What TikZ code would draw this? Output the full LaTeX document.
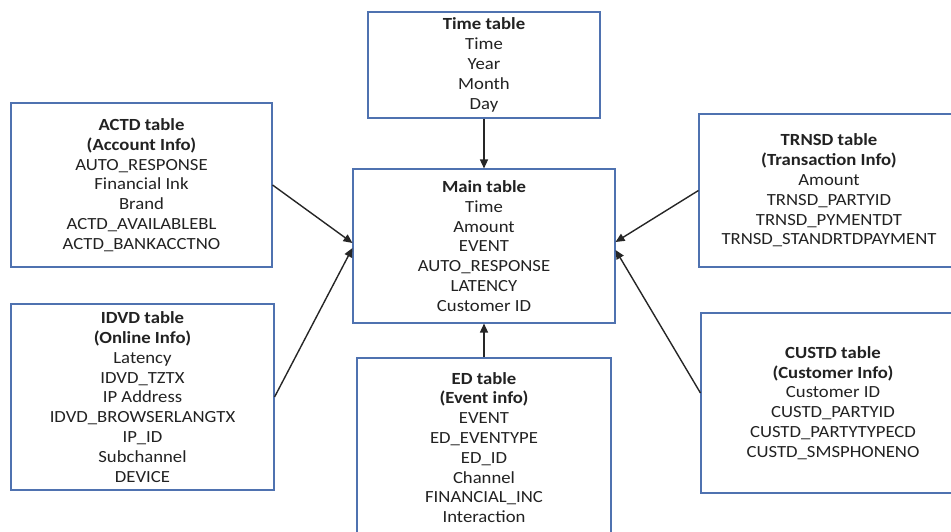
\documentclass[tikz,border=0pt]{standalone}
\usepackage{fontspec}
\setmainfont{Carlito}[FakeStretch=1.1]
\usetikzlibrary{arrows.meta,calc}
\definecolor{boxblue}{HTML}{4F72B0}
\definecolor{txt}{HTML}{222222}
\definecolor{arr}{HTML}{262626}
\tikzset{
  tbl/.style={draw=boxblue, line width=1.1pt, fill=white, rectangle, align=center,
    text=txt, font=\fontsize{17}{19.8}\selectfont, inner sep=0pt},
  link/.style={draw=arr, line width=1.4pt, -{Triangle[length=9pt,width=8pt]}}
}
\begin{document}
\begin{tikzpicture}[x=1pt,y=-1pt]
\useasboundingbox (0,0) rectangle (951,532);
\node[tbl, minimum width=232pt, minimum height=106pt] (time) at (484,65)
  {\textbf{Time table}\\Time\\Year\\Month\\Day};
\node[tbl, minimum width=262pt, minimum height=154pt] (main) at (484,246)
  {\textbf{Main table}\\Time\\Amount\\EVENT\\AUTO\_RESPONSE\\LATENCY\\Customer ID};
\node[tbl, minimum width=261pt, minimum height=164pt] (actd) at (141.5,185)
  {\textbf{ACTD table}\\\textbf{(Account Info)}\\AUTO\_RESPONSE\\Financial Ink\\Brand\\ACTD\_AVAILABLEBL\\ACTD\_BANKACCTNO};
\node[tbl, minimum width=263pt, minimum height=186pt] (idvd) at (142.5,397)
  {\textbf{IDVD table}\\\textbf{(Online Info)}\\Latency\\IDVD\_TZTX\\IP Address\\IDVD\_BROWSERLANGTX\\IP\_ID\\Subchannel\\DEVICE};
\node[tbl, minimum width=260pt, minimum height=153pt] (trnsd) at (829,190.5)
  {\textbf{TRNSD table}\\\textbf{(Transaction Info)}\\Amount\\TRNSD\_PARTYID\\TRNSD\_PYMENTDT\\TRNSD\_STANDRTDPAYMENT};
\node[tbl, minimum width=264pt, minimum height=180pt] (custd) at (833,403)
  {\textbf{CUSTD table}\\\textbf{(Customer Info)}\\Customer ID\\CUSTD\_PARTYID\\CUSTD\_PARTYTYPECD\\CUSTD\_SMSPHONENO};
\node[tbl, minimum width=254pt, minimum height=179pt] (ed) at (484,447.5)
  {\textbf{ED table}\\\textbf{(Event info)}\\EVENT\\ED\_EVENTYPE\\ED\_ID\\Channel\\FINANCIAL\_INC\\Interaction};
\coordinate (mainLa) at ($(main.west)+(0,-3)$);
\coordinate (mainLb) at ($(main.west)+(0,2)$);
\coordinate (mainRa) at ($(main.east)+(0,-4)$);
\coordinate (mainRb) at ($(main.east)+(0,4)$);
\coordinate (custdL) at ($(custd.west)+(0,-10)$);
\draw[link] (time.south) -- (main.north);
\draw[link] (ed.north) -- (main.south);
\draw[link] (actd.east) -- (mainLa);
\draw[link] (idvd.east) -- (mainLb);
\draw[link] (trnsd.west) -- (mainRa);
\draw[link] (custdL) -- (mainRb);
\end{tikzpicture}
\end{document}
